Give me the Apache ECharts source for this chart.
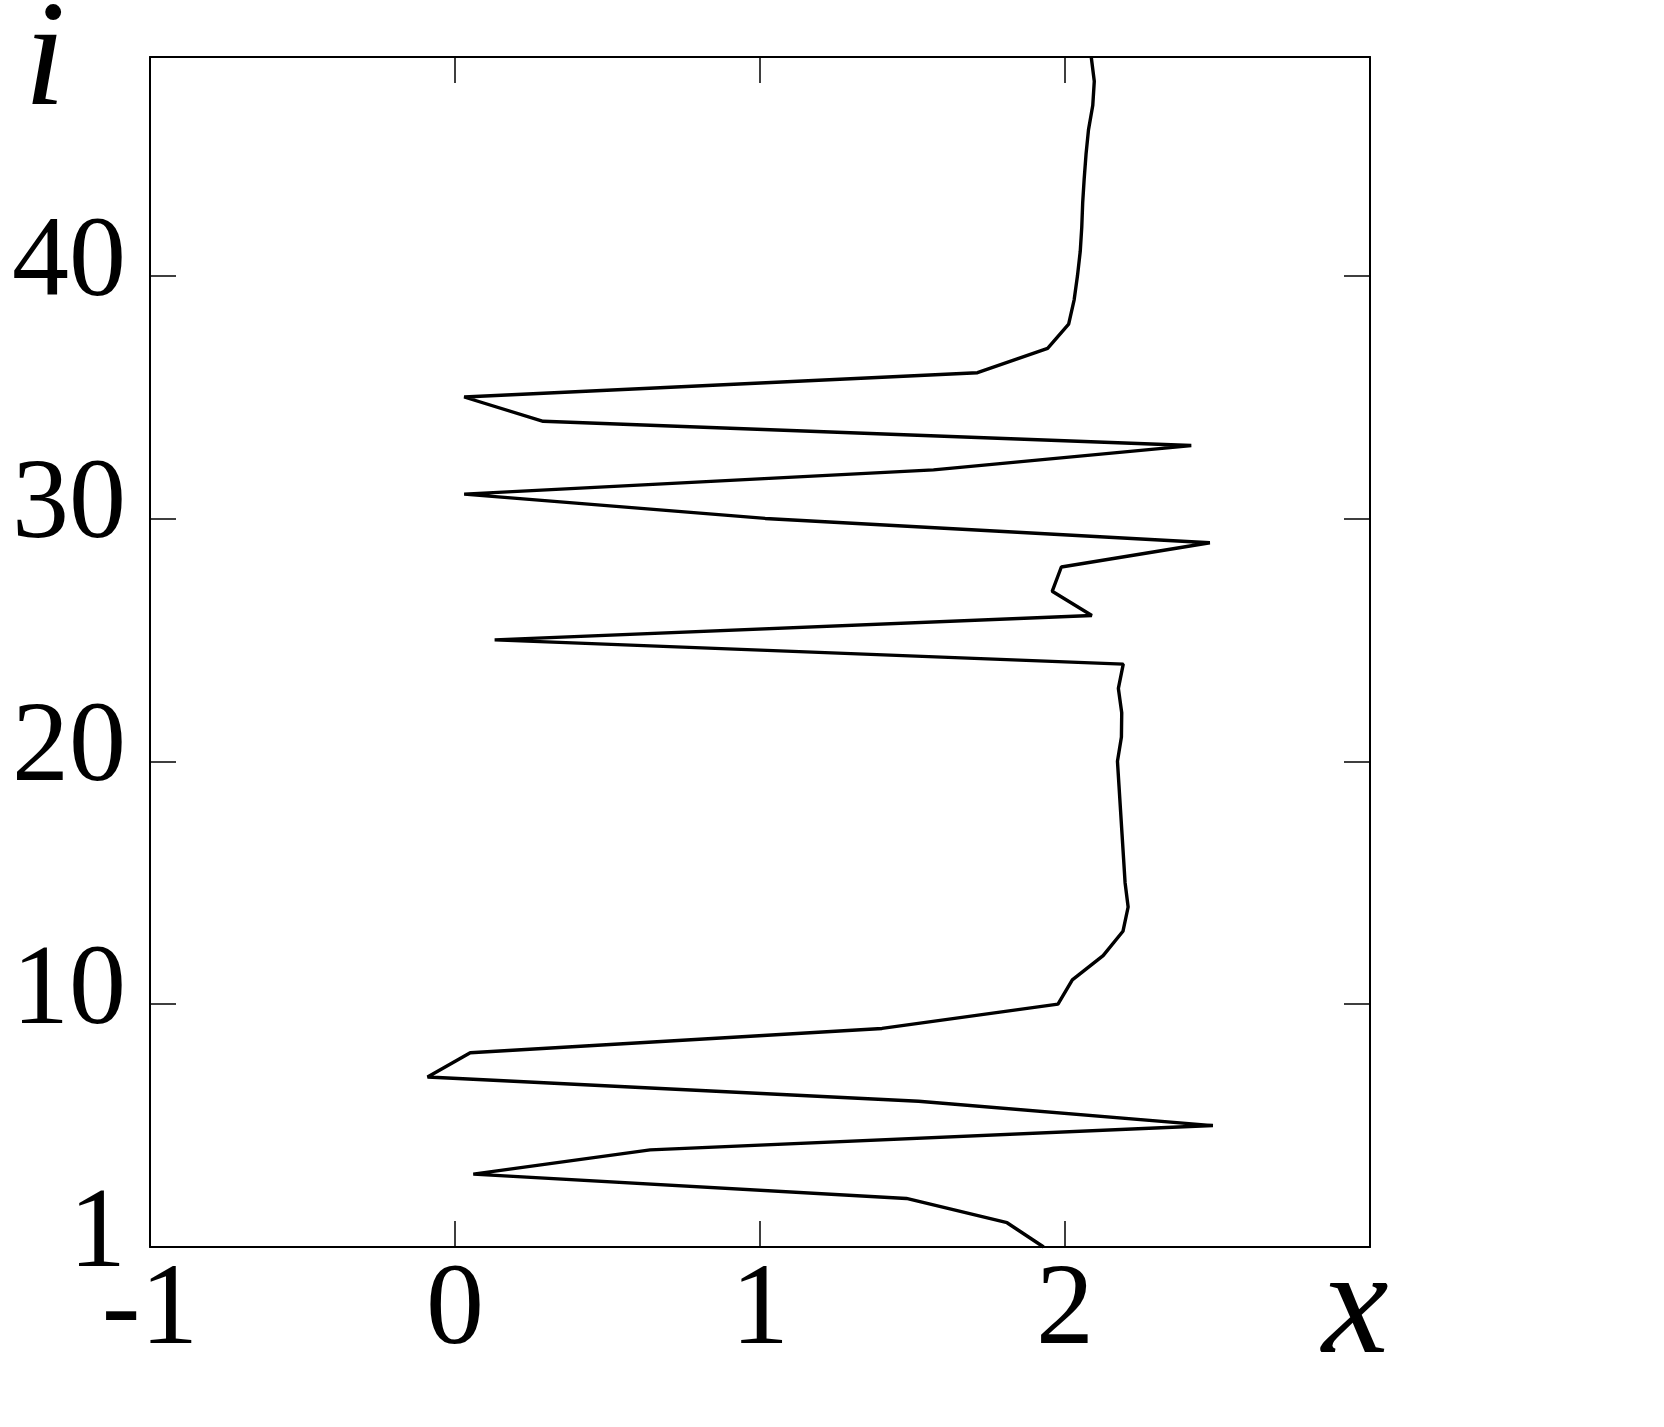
<!DOCTYPE html>
<html>
<head>
<meta charset="utf-8">
<script src="https://cdn.jsdelivr.net/npm/echarts@6/dist/echarts.min.js"></script>
<style>
    html, body { margin: 0; padding: 0; background: #fff; }
    #chart { width: 1664px; height: 1427px; }
</style>
</head>
<body>
<div id="chart"></div>
<script>
    // index i (0..49) and x value at each index
    var idx = [];
    for (var k = 0; k < 50; k++) idx.push(k);
    var xVals = [
        1.93, 1.81, 1.48, 0.06, 0.64, 2.485, 1.52, -0.09, 0.05, 1.40,
        1.977, 2.024, 2.125, 2.19, 2.207, 2.197, 2.192, 2.187, 2.182, 2.177,
        2.172, 2.185, 2.186, 2.175, 2.191, 0.13, 2.088, 1.958, 1.988, 2.475,
        1.017, 0.03, 1.569, 2.414, 0.289, 0.03, 1.713, 1.943, 2.012, 2.03,
        2.041, 2.05, 2.055, 2.058, 2.063, 2.069, 2.077, 2.091, 2.096, 2.086
    ];
    var xTicks = [-1, 0, 1, 2];
    var yTicks = [10, 20, 30, 40];

    var font = 'Liberation Serif';
    var points = idx.map(function (i) { return [xVals[i], i]; });

    var chart = echarts.init(document.getElementById('chart'));
    var boxLine = { show: true, onZero: false, lineStyle: { color: '#000', width: 2 } };
    var tickIn = { show: true, inside: true, length: 26, lineStyle: { color: '#000', width: 1.5 } };

    chart.setOption({
        animation: false,
        grid: { left: 150, right: 294, top: 57, bottom: 180 },
        xAxis: [
            {
                type: 'value', min: -1, max: 3, interval: 1, position: 'bottom',
                axisLine: boxLine, axisTick: tickIn, splitLine: { show: false },
                axisLabel: {
                    margin: 8, color: '#000', fontFamily: font, fontSize: 116,
                    formatter: function (v) { return xTicks.indexOf(v) >= 0 ? String(v) : ''; }
                }
            },
            {
                type: 'value', min: -1, max: 3, interval: 1, position: 'top',
                axisLine: boxLine, axisTick: tickIn, splitLine: { show: false },
                axisLabel: { show: false }
            }
        ],
        yAxis: [
            {
                type: 'value', min: 0, max: 49, interval: 10, position: 'left',
                axisLine: boxLine, axisTick: tickIn, splitLine: { show: false },
                axisLabel: {
                    margin: 24, color: '#000', fontFamily: font, fontSize: 114,
                    lineHeight: 22,
                    // trailing empty line lifts the digits a little above the tick
                    formatter: function (v) {
                        if (v === 0) return '1\n';
                        return yTicks.indexOf(v) >= 0 ? String(v) + '\n' : '';
                    }
                }
            },
            {
                type: 'value', min: 0, max: 49, interval: 10, position: 'right',
                axisLine: boxLine, axisTick: tickIn, splitLine: { show: false },
                axisLabel: { show: false }
            }
        ],
        graphic: [
            {
                type: 'text', left: 24, top: -10,
                style: { text: 'i', font: 'italic 150px "Liberation Serif"', fill: '#000' }
            },
            {
                type: 'text', left: 1322, top: 1238,
                style: { text: 'x', font: 'italic 150px "Liberation Serif"', fill: '#000' }
            }
        ],
        series: [
            {
                type: 'line',
                data: points,
                symbol: 'none',
                lineStyle: { color: '#000', width: 3.4 }
            }
        ]
    });
</script>
</body>
</html>
